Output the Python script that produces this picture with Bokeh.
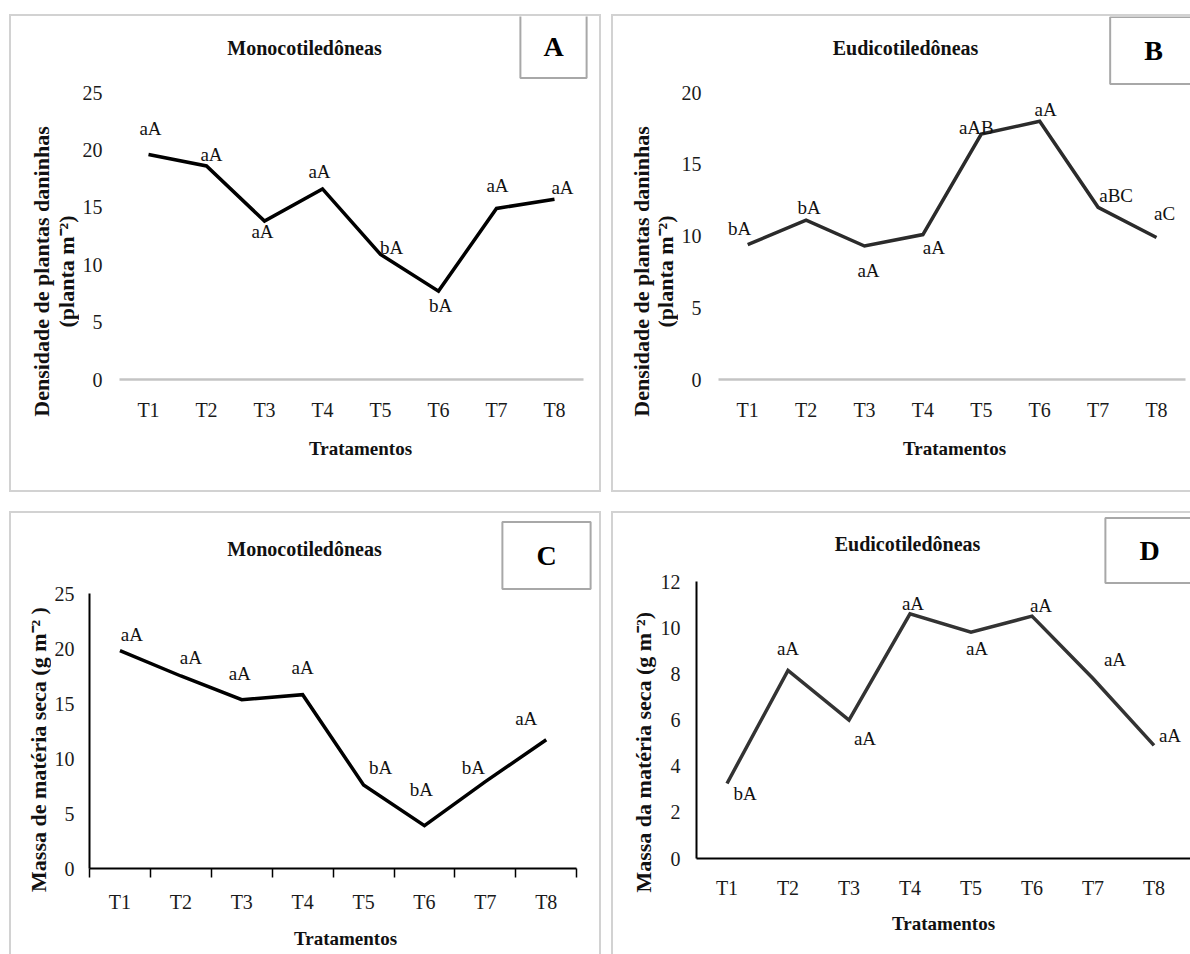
import math
from bokeh.plotting import figure
from bokeh.models import Label, FixedTicker, ColumnDataSource, Spacer, Range1d
from bokeh.layouts import column, row
from bokeh.embed import file_html
from bokeh.resources import INLINE
from bokeh.core.properties import value

# ---------------- data ----------------
treatments = ["T1", "T2", "T3", "T4", "T5", "T6", "T7", "T8"]

dens_mono = [19.6, 18.6, 13.8, 16.6, 10.9, 7.7, 14.9, 15.7]
dens_mono_letters = ["aA", "aA", "aA", "aA", "bA", "bA", "aA", "aA"]

dens_eudi = [9.4, 11.1, 9.3, 10.1, 17.1, 18.0, 12.0, 9.9]
dens_eudi_letters = ["bA", "bA", "aA", "aA", "aAB", "aA", "aBC", "aC"]

mass_mono = [19.8, 17.5, 15.35, 15.8, 7.6, 3.9, 7.9, 11.7]
mass_mono_letters = ["aA", "aA", "aA", "aA", "bA", "bA", "bA", "aA"]

mass_eudi = [3.25, 8.15, 6.0, 10.6, 9.8, 10.5, 7.8, 4.9]
mass_eudi_letters = ["bA", "aA", "aA", "aA", "aA", "aA", "aA", "aA"]

title_mono = "Monocotiledôneas"
title_eudi = "Eudicotiledôneas"
x_title = "Tratamentos"
ylab_dens = ["Densidade de plantas daninhas", "(planta m⁻²)"]
ylab_mass_c = "Massa de matéria seca (g m⁻² )"
ylab_mass_d = "Massa da matéria  seca (g m⁻²)"

# ---------------- label offsets (style, px) ----------------
offs_A = [(2, -26), (5, -11), (-2, 10), (-3, -17), (11, -7), (2, 14), (1, -23), (8, -12)]
offs_B = [(-8, -16), (3, -13), (4, 24), (11, 13), (-5, -7), (6, -12), (18, -12), (8, -24)]
offs_C = [(12, -16), (10, -19), (-2, -26), (0, -27), (17, -17), (-3, -36), (-12, -14), (-20, -21)]
offs_D = [(18, 10), (0, -22), (16, 18), (3, -10), (6, 16), (9, -11), (22, -19), (16, -10)]

SERIF = "Liberation Serif"
BW = 2
BORDER = "%dpx solid #d2d2d2" % BW


def css_for(sides):
    return {("border-" + s): BORDER for s in sides}


def canvas_box(outer, sides):
    ox0, oy0, ox1, oy1 = outer
    W, H = ox1 - ox0, oy1 - oy0
    cl = ox0 + (BW if "left" in sides else 0)
    ct = oy0 + (BW if "top" in sides else 0)
    return W, H, cl, ct, cl + W, ct + H


def ytitle_fig(outer, sides, lines):
    """A text-only figure holding the rotated y-axis title lines (page coords)."""
    W, H, cl, ct, cr, cb = canvas_box(outer, sides)
    p = figure(width=W, height=H, x_axis_type=None, y_axis_type=None,
               x_range=Range1d(0, 1), y_range=Range1d(0, 1),
               min_border=0, min_border_left=0, min_border_right=0,
               min_border_top=0, min_border_bottom=0,
               output_backend="svg", toolbar_location=None, outline_line_color=None,
               background_fill_color="white", border_fill_color="white",
               frame_align=False, styles=css_for(sides))
    p.xgrid.visible = False
    p.ygrid.visible = False
    for (txt, lx, ly) in lines:
        p.add_layout(Label(x=lx - cl, y=cb - ly, x_units="screen", y_units="screen",
                           text=txt, text_font=SERIF, text_font_style="bold",
                           text_font_size="22px", text_align="center",
                           text_baseline="middle", angle=math.pi / 2,
                           text_color="#111111"))
    return p


def main_fig(vals, letters, offs, outer, sides, frame, spacing, bounded, ytop, ystep, ytop_px,
             ytick_standoff, xlab_standoff, xaxis_label_standoff,
             line_color, boxed, ticks_out, title, title_xy, tag, tag_xy, tag_pad):
    W, H, cl, ct, cr, cb = canvas_box(outer, sides)
    fl, fb = frame
    ft = ct
    x_end = 0.5 + (cr - fl) / spacing
    y_end = ytop * (fb - ft) / (fb - ytop_px)
    p = figure(width=W, height=H,
               x_range=Range1d(0.5, x_end), y_range=Range1d(0, y_end),
               min_border_left=fl - cl, min_border_right=0,
               min_border_top=0, min_border_bottom=cb - fb,
               output_backend="svg", toolbar_location=None,
               outline_line_color=None, background_fill_color="white",
               border_fill_color="white", frame_align=False, styles=css_for(sides))
    p.xgrid.visible = False
    p.ygrid.visible = False

    xs = list(range(1, len(treatments) + 1))
    src = ColumnDataSource(dict(x=xs, y=vals, t=letters,
                                dx=[o[0] for o in offs], dy=[o[1] for o in offs]))
    p.line("x", "y", source=src, line_color=line_color, line_width=3.5,
           line_join="miter")
    p.text("x", "y", text="t", source=src, x_offset="dx", y_offset="dy",
           text_font=value(SERIF), text_font_size="19px", text_align="center",
           text_baseline="middle", text_color="#111111")

    # x axis
    xa = p.xaxis[0]
    xa.ticker = FixedTicker(ticks=xs, minor_ticks=[x - 0.5 for x in xs] + [len(xs) + 0.5])
    if bounded:
        xa.bounds = (0.5, len(xs) + 0.5)
    xa.major_label_overrides = {x: t for x, t in zip(xs, treatments)}
    xa.major_label_text_font = SERIF
    xa.major_label_text_font_size = "20px"
    xa.major_label_text_color = "#1a1a1a"
    xa.major_label_standoff = xlab_standoff
    xa.major_tick_in = 0
    xa.major_tick_out = 0
    xa.minor_tick_in = 0
    xa.minor_tick_out = 9 if ticks_out else 0
    xa.minor_tick_line_color = "#000000"
    xa.minor_tick_line_width = 1.5
    if boxed:
        xa.axis_line_color = "#000000"
        xa.axis_line_width = 2
    else:
        xa.axis_line_color = "#c4c4c4"
        xa.axis_line_width = 2.5
    xa.axis_label = x_title
    xa.axis_label_text_font = SERIF
    xa.axis_label_text_font_style = "bold"
    xa.axis_label_text_font_size = "19px"
    xa.axis_label_text_color = "#111111"
    xa.axis_label_standoff = xaxis_label_standoff

    # y axis
    ya = p.yaxis[0]
    ya.ticker = FixedTicker(ticks=list(range(0, ytop + 1, ystep)))
    ya.bounds = (0, ytop)
    ya.major_label_text_font = SERIF
    ya.major_label_text_font_size = "20px"
    ya.major_label_text_color = "#1a1a1a"
    ya.major_label_standoff = ytick_standoff
    ya.major_tick_in = 0
    ya.major_tick_out = 0
    ya.minor_tick_in = 0
    ya.minor_tick_out = 0
    if boxed:
        ya.axis_line_color = "#000000"
        ya.axis_line_width = 2
    else:
        ya.axis_line_color = None

    # title (inside the frame, screen units relative to frame)
    p.add_layout(Label(x=title_xy[0] - fl, y=fb - title_xy[1], x_units="screen", y_units="screen",
                       text=title, text_font=SERIF, text_font_style="bold",
                       text_font_size="20px", text_align="center", text_baseline="middle",
                       text_color="#111111"))
    # tag box
    p.add_layout(Label(x=tag_xy[0] - fl, y=fb - tag_xy[1], x_units="screen", y_units="screen",
                       text=tag, text_font=SERIF, text_font_style="bold",
                       text_font_size="28px", text_align="center", text_baseline="middle",
                       text_color="#000000", background_fill_color="white",
                       border_line_color="#a8a8a8", border_line_width=2,
                       padding=tag_pad))
    return p


# ---------------- panel A ----------------
aY = ytitle_fig((9, 14, 79, 492), ["left", "top", "bottom"],
                [(ylab_dens[0], 41, 271), (ylab_dens[1], 66, 271)])
aM = main_fig(dens_mono, dens_mono_letters, offs_A, (79, 14, 601, 492),
              ["top", "right", "bottom"], frame=(119, 379), spacing=58.0, bounded=True,
              ytop=25, ystep=5, ytop_px=92, ytick_standoff=17, xlab_standoff=19,
              xaxis_label_standoff=14, line_color="#000000", boxed=False, ticks_out=False,
              title=title_mono, title_xy=(304, 47), tag="A", tag_xy=(553, 46),
              tag_pad=(23, 16))

# ---------------- panel B ----------------
bY = ytitle_fig((611, 14, 678, 492), ["left", "top", "bottom"],
                [(ylab_dens[0], 641, 271), (ylab_dens[1], 665, 271)])
bM = main_fig(dens_eudi, dens_eudi_letters, offs_B, (678, 14, 1190, 492),
              ["top", "bottom"], frame=(718, 379), spacing=58.4, bounded=True,
              ytop=20, ystep=5, ytop_px=92, ytick_standoff=17, xlab_standoff=19,
              xaxis_label_standoff=14, line_color="#2b2b2b", boxed=False, ticks_out=False,
              title=title_eudi, title_xy=(905, 47), tag="B", tag_xy=(1153, 50),
              tag_pad=(34, 18))

# ---------------- panel C ----------------
cY = ytitle_fig((9, 511, 51, 954), ["left", "top"], [(ylab_mass_c, 38, 749)])
cM = main_fig(mass_mono, mass_mono_letters, offs_C, (51, 511, 601, 954),
              ["top", "right"], frame=(89, 868), spacing=60.9, bounded=True,
              ytop=25, ystep=5, ytop_px=593, ytick_standoff=15, xlab_standoff=13,
              xaxis_label_standoff=12, line_color="#000000", boxed=True, ticks_out=True,
              title=title_mono, title_xy=(304, 548), tag="C", tag_xy=(546, 555),
              tag_pad=(34, 18))

# ---------------- panel D ----------------
dY = ytitle_fig((611, 511, 657, 954), ["left", "top"], [(ylab_mass_d, 643, 749)])
dM = main_fig(mass_eudi, mass_eudi_letters, offs_D, (657, 511, 1190, 954),
              ["top"], frame=(696, 858), spacing=61.0, bounded=False,
              ytop=12, ystep=2, ytop_px=581, ytick_standoff=16, xlab_standoff=18,
              xaxis_label_standoff=11, line_color="#333333", boxed=True, ticks_out=False,
              title=title_eudi, title_xy=(907, 543), tag="D", tag_xy=(1149, 550),
              tag_pad=(34, 17))

top = row(Spacer(width=9, height=478), aY, aM, Spacer(width=10, height=478), bY, bM)
bottom = row(Spacer(width=9, height=443), cY, cM, Spacer(width=10, height=443), dY, dM)
layout = column(Spacer(width=10, height=14), top, Spacer(width=10, height=19), bottom)

open("out.html", "w").write(file_html(layout, INLINE))
